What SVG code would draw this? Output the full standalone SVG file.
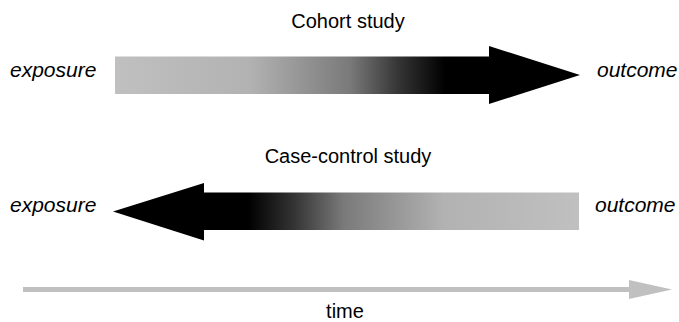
<svg xmlns="http://www.w3.org/2000/svg" width="679" height="322" viewBox="0 0 679 322">
<style>
text{font-family:"Liberation Sans",Arial,sans-serif;font-size:20px;fill:#000}
.it{font-style:italic;font-size:21px}
.mid{text-anchor:middle}
</style>
<defs>
<linearGradient id="gTop" gradientUnits="userSpaceOnUse" x1="115" y1="0" x2="580" y2="0">
<stop offset="0" stop-color="#c0c0c0"/>
<stop offset="0.29" stop-color="#b2b2b2"/>
<stop offset="0.505" stop-color="#7a7a7a"/>
<stop offset="0.613" stop-color="#333333"/>
<stop offset="0.71" stop-color="#000000"/>
<stop offset="1" stop-color="#000000"/>
</linearGradient>
<linearGradient id="gBot" gradientUnits="userSpaceOnUse" x1="579" y1="0" x2="113" y2="0">
<stop offset="0" stop-color="#c0c0c0"/>
<stop offset="0.29" stop-color="#b2b2b2"/>
<stop offset="0.505" stop-color="#7a7a7a"/>
<stop offset="0.613" stop-color="#333333"/>
<stop offset="0.71" stop-color="#000000"/>
<stop offset="1" stop-color="#000000"/>
</linearGradient>
</defs>
<g id="cohort">
<text class="mid" x="348" y="28">Cohort study</text>
<polygon points="115,56.5 489,56.5 489,46 580,75 489,104 489,94 115,94" fill="url(#gTop)"/>
<text class="it" x="10" y="77">exposure</text>
<text class="it" x="597" y="77">outcome</text>
</g>
<g id="casecontrol">
<text class="mid" x="348" y="163">Case-control study</text>
<polygon points="579,192.5 204,192.5 204,183 113,211.5 204,240.5 204,230 579,230" fill="url(#gBot)"/>
<text class="it" x="10" y="212">exposure</text>
<text class="it" x="595" y="212">outcome</text>
</g>
<g id="connectors">
<rect x="23" y="287" width="607" height="5" fill="#c0c0c0"/>
<polygon points="629,280 672,289.5 629,299" fill="#c0c0c0"/>
<text class="mid" x="345" y="318">time</text>
</g>
</svg>
